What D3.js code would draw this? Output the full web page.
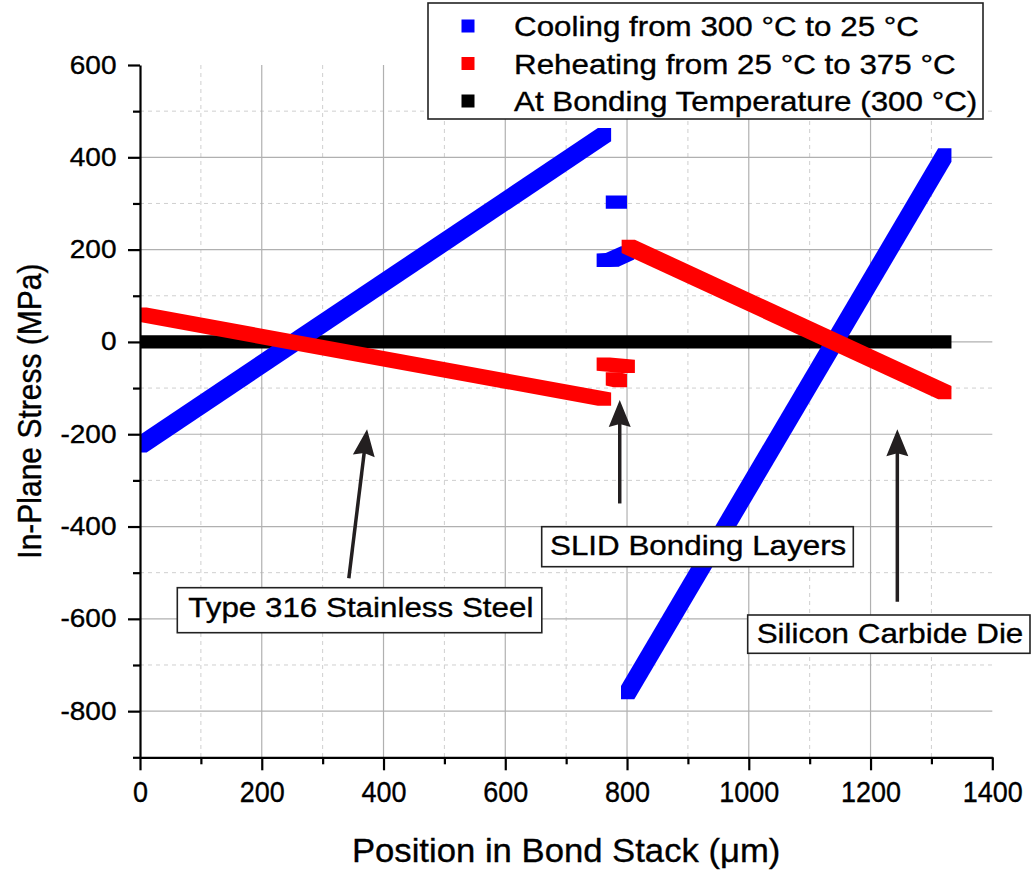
<!DOCTYPE html>
<html><head><meta charset="utf-8">
<script src="https://cdn.jsdelivr.net/npm/d3@7"></script>
<style>
html,body{margin:0;padding:0;background:#fff;}
svg{display:block;font-family:"Liberation Sans",Arial,Helvetica,sans-serif;}
text{stroke:#000;stroke-width:0.35px;}
</style></head><body>
<svg id="chart" width="1031" height="871"></svg>
<script>
// ---------------- data ----------------
const seriesNames = ["Cooling from 300 °C to 25 °C", "Reheating from 25 °C to 375 °C", "At Bonding Temperature (300 °C)"];
// each series: list of polylines, each polyline a list of [position (µm), stress (MPa)]
const coolingSegments = [
  [[0, -225], [763, 449]],
  [[776, 303], [789, 303]],
  [[761, 177], [776, 178], [801, 193]],
  [[801, -760], [1322, 405]]
];
const reheatingSegments = [
  [[0, 60], [763, -124]],
  [[761, -48], [802, -53]],
  [[776, -80], [789, -84]],
  [[802, 207], [1322, -110]]
];
const bondingSegments = [
  [[0, 0], [1322, 0]]
];
const xMajorTicks = [0, 200, 400, 600, 800, 1000, 1200, 1400];
const xMinorTicks = [100, 300, 500, 700, 900, 1100, 1300];
const yMajorTicks = [600, 400, 200, 0, -200, -400, -600, -800];
const yMinorTicks = [500, 300, 100, -100, -300, -500, -700, -900];
const annotationLabels = ["Type 316 Stainless Steel", "SLID Bonding Layers", "Silicon Carbide Die"];
const annotationTips = [[373, -189], [788, -126], [1244, -189]];
const annotationTails = [[343, -512], [788, -350], [1244, -563]];
const xTitle = "Position in Bond Stack (\u03bcm)";
const yTitle = "In-Plane Stress (MPa)";

// ---------------- layout ----------------
const P = {left: 140, right: 992.3, top: 65, bottom: 757.3};
const SX = 1.12; // horizontal text stretch of the original picture
const svg = d3.select("#chart");
const x = d3.scaleLinear().domain([0, 1400]).range([P.left, P.right]);
const y = d3.scaleLinear().domain([-900, 600]).range([P.bottom, P.top]);
const fmt = d => String(d); // plain hyphen for negatives

// grid
const grid = svg.append("g");
grid.selectAll(".gxm").data(xMinorTicks).join("line")
  .attr("x1", d => x(d)).attr("x2", d => x(d)).attr("y1", P.top).attr("y2", P.bottom)
  .attr("stroke", "#cfcfcf").attr("stroke-width", 1).attr("stroke-dasharray", "4,4");
grid.selectAll(".gym").data(yMinorTicks.filter(d => d > -900)).join("line")
  .attr("x1", P.left).attr("x2", P.right).attr("y1", d => y(d)).attr("y2", d => y(d))
  .attr("stroke", "#cfcfcf").attr("stroke-width", 1).attr("stroke-dasharray", "4,4");
grid.selectAll(".gx").data(xMajorTicks.filter(d => d > 0 && d < 1400)).join("line")
  .attr("x1", d => x(d)).attr("x2", d => x(d)).attr("y1", P.top).attr("y2", P.bottom)
  .attr("stroke", "#b0b0b0").attr("stroke-width", 1.2);
grid.selectAll(".gy").data(yMajorTicks.filter(d => d < 600)).join("line")
  .attr("x1", P.left).attr("x2", P.right).attr("y1", d => y(d)).attr("y2", d => y(d))
  .attr("stroke", "#b0b0b0").attr("stroke-width", 1.2);

// clip
svg.append("clipPath").attr("id", "plotclip").append("rect")
  .attr("x", P.left).attr("y", P.top - 20).attr("width", P.right - P.left + 20).attr("height", P.bottom - P.top + 20);

// swept square markers
const half = 6.65;
function sweptPaths(segments) {
  const out = [];
  segments.forEach(line => {
    for (let i = 0; i < line.length - 1; i++) {
      const a = [x(line[i][0]), y(line[i][1])], b = [x(line[i + 1][0]), y(line[i + 1][1])];
      const pts = [];
      [a, b].forEach(p => {
        pts.push([p[0] - half, p[1] - half], [p[0] + half, p[1] - half], [p[0] + half, p[1] + half], [p[0] - half, p[1] + half]);
      });
      out.push(d3.polygonHull(pts));
    }
  });
  return out;
}
const marks = svg.append("g").attr("clip-path", "url(#plotclip)");
[[bondingSegments, "#000000"], [coolingSegments, "#0000ff"], [reheatingSegments, "#ff0000"]].forEach(([segs, col]) => {
  marks.append("g").selectAll("path").data(sweptPaths(segs)).join("path")
    .attr("d", d => "M" + d.join("L") + "Z").attr("fill", col);
});

// axes
const yAxis = svg.append("g").attr("transform", `translate(${P.left},0)`)
  .call(d3.axisLeft(y).tickValues(yMajorTicks).tickSize(12).tickSizeOuter(0).tickPadding(9).tickFormat(fmt));
svg.append("g").attr("transform", `translate(${P.left},0)`)
  .call(d3.axisLeft(y).tickValues(yMinorTicks).tickSize(7).tickFormat(""))
  .call(g => g.select(".domain").remove());
const xAxis = svg.append("g").attr("transform", `translate(0,${P.bottom})`)
  .call(d3.axisBottom(x).tickValues(xMajorTicks).tickSize(13).tickSizeOuter(0).tickPadding(11).tickFormat(fmt));
svg.append("g").attr("transform", `translate(0,${P.bottom})`)
  .call(d3.axisBottom(x).tickValues(xMinorTicks).tickSize(7).tickFormat(""))
  .call(g => g.select(".domain").remove());
svg.selectAll(".domain").attr("stroke", "#000").attr("stroke-width", 2.2);
svg.selectAll(".tick line").attr("stroke", "#000").attr("stroke-width", 2.2);
yAxis.selectAll("text").attr("fill", "#000").style("font-size", "25px")
  .attr("transform", `scale(${SX},1)`);
xAxis.selectAll("text").attr("fill", "#000").style("font-size", "29px")
  .attr("transform", "scale(0.93,1)");
svg.selectAll("g[font-family]").attr("font-family", null).attr("font-size", null);

// text helper
function stext(g, tx, ty, str, size, anchor, extra, sx) {
  return g.append("text")
    .attr("transform", `translate(${tx},${ty}) scale(${sx || SX},1)` + (extra || ""))
    .attr("text-anchor", anchor).style("font-size", size + "px").attr("fill", "#000").text(str);
}

// axis titles
stext(svg, (P.left + P.right) / 2, 862, xTitle, 34, "middle", "", 1.02);
stext(svg, 41, (P.top + P.bottom) / 2, yTitle, 30, "middle", " rotate(-90)");

// annotations
const annBoxes = [
  {x: 177.3, y: 587.7, w: 364.5, h: 45, tx: 188.3, ty: 616.7},
  {x: 541.7, y: 526.7, w: 311.6, h: 40, tx: 550, ty: 555},
  {x: 747.7, y: 615, w: 282.3, h: 38.3, tx: 756.7, ty: 642.7}
];
const ann = svg.append("g");
annotationLabels.forEach((lab, i) => {
  const tip = [x(annotationTips[i][0]), y(annotationTips[i][1])];
  const tail = [x(annotationTails[i][0]), y(annotationTails[i][1])];
  const dx = tip[0] - tail[0], dy = tip[1] - tail[1];
  const L = Math.hypot(dx, dy), ux = dx / L, uy = dy / L, nx = -uy, ny = ux;
  const hl = 27, hw = 11;
  const base = [tip[0] - ux * hl, tip[1] - uy * hl];
  ann.append("line").attr("x1", tail[0]).attr("y1", tail[1]).attr("x2", base[0] + ux * 4).attr("y2", base[1] + uy * 4)
    .attr("stroke", "#231f20").attr("stroke-width", 3.5);
  ann.append("path")
    .attr("d", `M${tip[0]},${tip[1]}L${base[0] + nx * hw},${base[1] + ny * hw}L${base[0] + ux * 3},${base[1] + uy * 3}L${base[0] - nx * hw},${base[1] - ny * hw}Z`)
    .attr("fill", "#231f20");
  const b = annBoxes[i];
  ann.append("rect").attr("x", b.x).attr("y", b.y).attr("width", b.w).attr("height", b.h)
    .attr("fill", "#fff").attr("stroke", "#222").attr("stroke-width", 1.6);
  stext(ann, b.tx, b.ty, lab, 28, "start");
});

// legend
const leg = svg.append("g");
leg.append("rect").attr("x", 428).attr("y", 3).attr("width", 555).attr("height", 116)
  .attr("fill", "#fff").attr("stroke", "#222").attr("stroke-width", 1.6);
const legColors = ["#0000ff", "#ff0000", "#000000"];
const legRowY = [26, 63.5, 101];
seriesNames.forEach((name, i) => {
  leg.append("rect").attr("x", 461.5).attr("y", legRowY[i] - 6.5).attr("width", 13).attr("height", 13).attr("fill", legColors[i]);
  stext(leg, 514, legRowY[i] + 10, name, 28, "start");
});
</script>
</body></html>
